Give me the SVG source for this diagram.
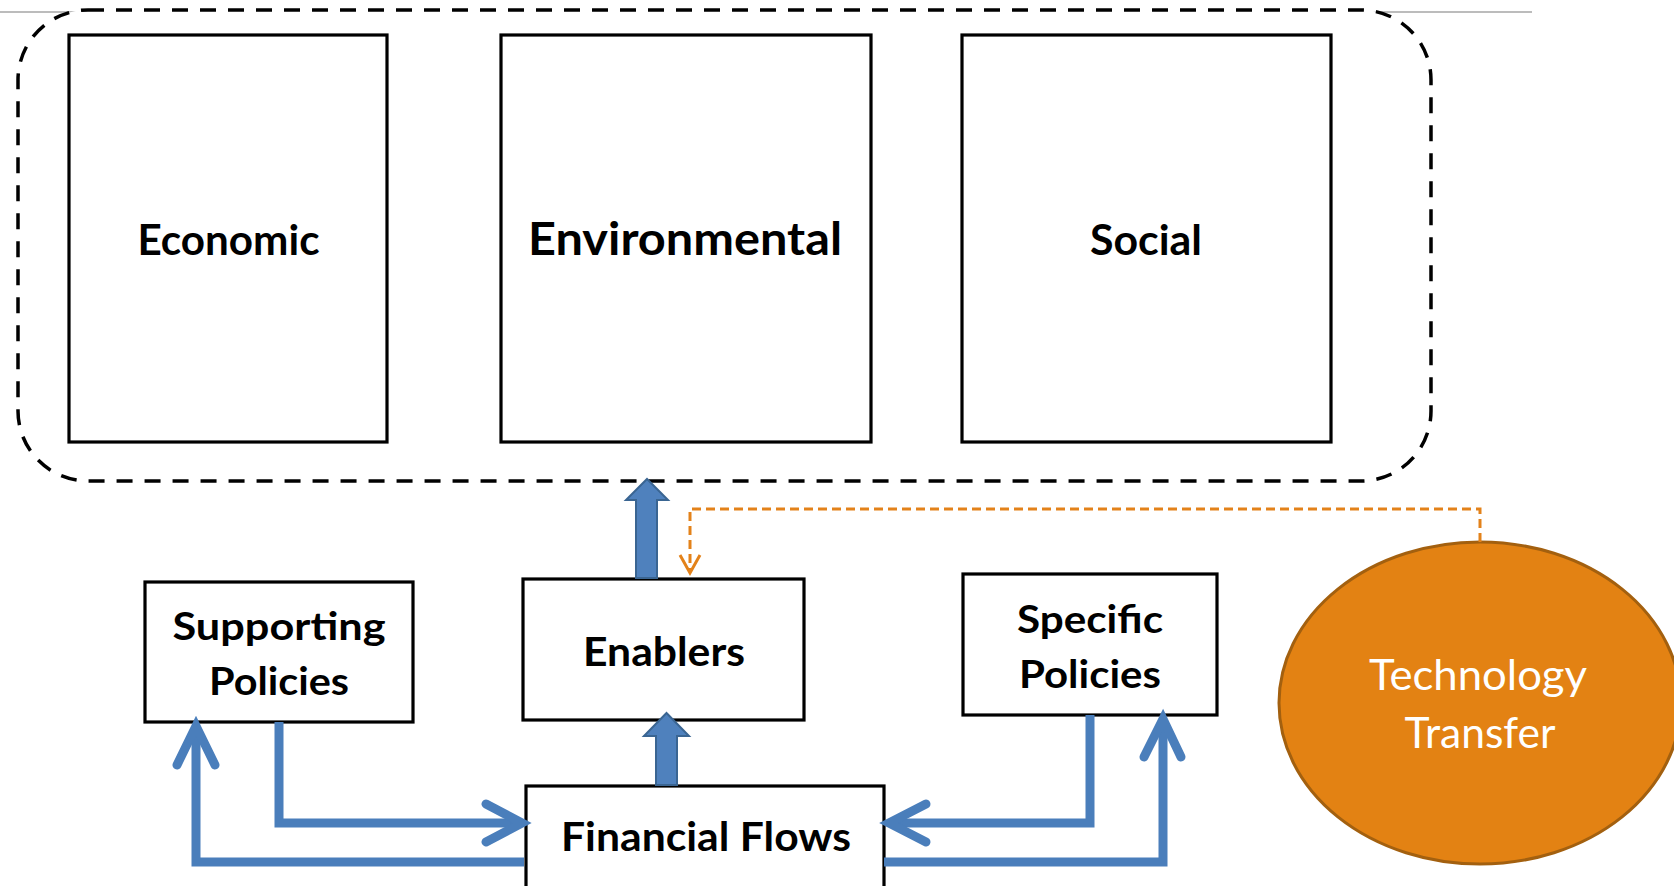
<svg xmlns="http://www.w3.org/2000/svg" width="1674" height="886" viewBox="0 0 1674 886">
<style>
.box{fill:#fff;stroke:#000;stroke-width:3.2}
.lbl{font-family:Lato,"Open Sans","Liberation Sans",sans-serif;font-weight:bold;fill:#000;text-anchor:middle}
.tt{font-family:Lato,"Open Sans","Liberation Sans",sans-serif;font-weight:normal;fill:#fff;text-anchor:middle;font-size:42px}
.blk{fill:#4F81BD;stroke:#3A6592;stroke-width:2}
.ln{fill:none;stroke:#4A7EBB;stroke-width:9}
.hd{fill:none;stroke:#4A7EBB;stroke-width:9;stroke-linecap:round;stroke-linejoin:miter}
.or{fill:none;stroke:#E3821A;stroke-width:3}
</style>
<rect width="1674" height="886" fill="#fff"/>
<line x1="0" y1="12" x2="1532" y2="12" stroke="#a6a6a6" stroke-width="1.5"/>
<g id="group-box">
<rect x="18" y="10" width="1413" height="471" rx="70" ry="70" fill="#fff" stroke="#000" stroke-width="3.5" stroke-dasharray="16 12"/>
</g>
<g id="economic">
<rect class="box" x="69" y="35" width="318" height="407"/>
<text class="lbl" x="228.5" y="255" font-size="42" textLength="182" lengthAdjust="spacingAndGlyphs">Economic</text>
</g>
<g id="environmental">
<rect class="box" x="501" y="35" width="370" height="407"/>
<text class="lbl" x="685" y="255" font-size="46" textLength="314" lengthAdjust="spacingAndGlyphs">Environmental</text>
</g>
<g id="social">
<rect class="box" x="962" y="35" width="369" height="407"/>
<text class="lbl" x="1146" y="255" font-size="42" textLength="112" lengthAdjust="spacingAndGlyphs">Social</text>
</g>
<g id="supporting-policies">
<rect class="box" x="145" y="582" width="268" height="140"/>
<text class="lbl" x="279" y="640" font-size="39" textLength="213" lengthAdjust="spacingAndGlyphs">Supporting</text>
<text class="lbl" x="279" y="695" font-size="39" textLength="140" lengthAdjust="spacingAndGlyphs">Policies</text>
</g>
<g id="enablers">
<rect class="box" x="523" y="579" width="281" height="141"/>
<text class="lbl" x="664" y="666" font-size="40" textLength="162" lengthAdjust="spacingAndGlyphs">Enablers</text>
</g>
<g id="financial-flows">
<rect class="box" x="526" y="786" width="358" height="104"/>
<text class="lbl" x="706" y="851" font-size="40" textLength="290" lengthAdjust="spacingAndGlyphs">Financial Flows</text>
</g>
<g id="specific-policies">
<rect class="box" x="963" y="574" width="254" height="141"/>
<text class="lbl" x="1090" y="633" font-size="39" textLength="146" lengthAdjust="spacingAndGlyphs">Specific</text>
<text class="lbl" x="1090" y="688" font-size="39" textLength="142" lengthAdjust="spacingAndGlyphs">Policies</text>
</g>
<g id="technology-transfer">
<ellipse cx="1480" cy="703" rx="201" ry="161" fill="#E38213" stroke="#A3600F" stroke-width="3"/>
<text class="tt" x="1478" y="690" textLength="218" lengthAdjust="spacingAndGlyphs">Technology</text>
<text class="tt" x="1480" y="748" textLength="151" lengthAdjust="spacingAndGlyphs">Transfer</text>
</g>
<g id="connectors">
<polygon class="blk" points="636,578 657,578 657,500 668,500 647,479 626,500 636,500"/>
<polygon class="blk" points="656,785 677,785 677,736 689,736 666.5,713 644,736 656,736"/>
<path class="ln" d="M279,722 V823 H518"/>
<path class="hd" d="M486,804 L522,823 L486,842"/>
<path class="ln" d="M524,862 H196 V728"/>
<path class="hd" d="M177,765 L196,726 L215,765"/>
<path class="ln" d="M1090,715 V823 H892"/>
<path class="hd" d="M926,804 L889,823 L926,842"/>
<path class="ln" d="M884,862 H1163 V722"/>
<path class="hd" d="M1144,757 L1163,719 L1181,757"/>
<path class="or" d="M1480,542 V509 H690 V570" stroke-dasharray="9 5"/>
<path class="or" d="M680,555 L690,573 L700,555"/>
</g>
</svg>
